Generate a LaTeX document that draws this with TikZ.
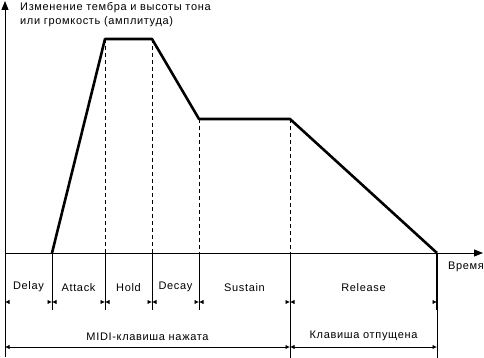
\documentclass[tikz,border=0pt]{standalone}
\usepackage{fontspec}
\setmainfont[LetterSpace=6]{Liberation Sans}
\usetikzlibrary{arrows.meta}
\tikzset{axis/.style     = {draw, line width=0.8pt, -{Triangle[length=9pt,width=7pt]}},
	envelope/.style = {draw, line width=2.6pt, line join=round},
	guide/.style    = {draw, line width=0.7pt, dash pattern=on 4pt off 3pt},
	border/.style   = {draw, line width=0.8pt},
	tips/.style     = {draw, line width=0.8pt, {Latex[length=4.5pt,width=4.5pt]}-{Latex[length=4.5pt,width=4.5pt]},
		dash pattern=on 0pt off 2000pt},
	span/.style     = {draw, line width=0.8pt, {Latex[length=4.5pt,width=4.5pt]}-{Latex[length=4.5pt,width=4.5pt]}},
	label/.style    = {font=\fontsize{11}{14.5}\selectfont, inner sep=0pt}
}

\begin{document}
\begin{tikzpicture}[x=1pt, y=-1pt]
		\useasboundingbox (0,0) rectangle (484,358);
		%% axes
		\coordinate (o) at (5,253);
		\coordinate (ytop) at (5,1);
		\coordinate (ybot) at (5,357);
		\coordinate (xend) at (483,253);
		\path[axis] (ybot) -- (ytop);
		\path[axis] (o) -- (xend);
		\node [label, anchor=north west, align=left] (ylab) at (20,2) {Изменение тембра и высоты тона\\или громкость (амплитуда)};
		\node [label, anchor=north east] (xlab) at (484,262) {Время};
		%% envelope corners
		\coordinate (e0) at (52,253);
		\coordinate (e1) at (105,39);
		\coordinate (e2) at (152,39);
		\coordinate (e3) at (199,119);
		\coordinate (e4) at (290,119);
		\coordinate (e5) at (437,253);
		\path[envelope] (e0) -- (e1) -- (e2) -- (e3) -- (e4) -- (e5);
		%% dashed guides down to the time axis
		\coordinate (g1) at (105,253);
		\coordinate (g2) at (152,253);
		\coordinate (g3) at (199,253);
		\coordinate (g4) at (290,253);
		\path[guide] (e1) -- (g1);
		\path[guide] (e2) -- (g2);
		\path[guide] (e3) -- (g3);
		\path[guide] (e4) -- (g4);
		%% phase borders below the axis
		\coordinate (b0) at (52,310);
		\coordinate (b1) at (105,310);
		\coordinate (b2) at (152,310);
		\coordinate (b3) at (199,310);
		\coordinate (b4) at (290,358);
		\coordinate (r1) at (437,310);
		\coordinate (r2) at (437,358);
		\path[border] (e0) -- (b0);
		\path[border] (g1) -- (b1);
		\path[border] (g2) -- (b2);
		\path[border] (g3) -- (b3);
		\path[border] (g4) -- (b4);
		\path[envelope] (e5) -- (r1);
		\path[border] (r1) -- (r2);
		%% phase spans
		\coordinate (p0) at (5,302);
		\coordinate (p1) at (52,302);
		\coordinate (p2) at (105,302);
		\coordinate (p3) at (152,302);
		\coordinate (p4) at (199,302);
		\coordinate (p5) at (290,302);
		\coordinate (p6) at (437,302);
		\path[tips] (p0) -- (p1) node[label, midway, above=10pt] (ph1) {Delay};
		\path[tips] (p1) -- (p2) node[label, midway, above=10pt] (ph2) {Attack};
		\path[tips] (p2) -- (p3) node[label, midway, above=10pt] (ph3) {Hold};
		\path[tips] (p3) -- (p4) node[label, midway, above=10pt] (ph4) {Decay};
		\path[tips] (p4) -- (p5) node[label, midway, above=10pt] (ph5) {Sustain};
		\path[tips] (p5) -- (p6) node[label, midway, above=10pt] (ph6) {Release};
		%% key state
		\coordinate (k0) at (5,347);
		\coordinate (k1) at (290,347);
		\coordinate (k2) at (437,347);
		\path[span] (k0) -- (k1) node[label, midway, above=6pt] (key1) {MIDI-клавиша нажата};
		\path[span] (k1) -- (k2) node[label, midway, above=6pt] (key2) {Клавиша отпущена};
	\end{tikzpicture}
\end{document}
